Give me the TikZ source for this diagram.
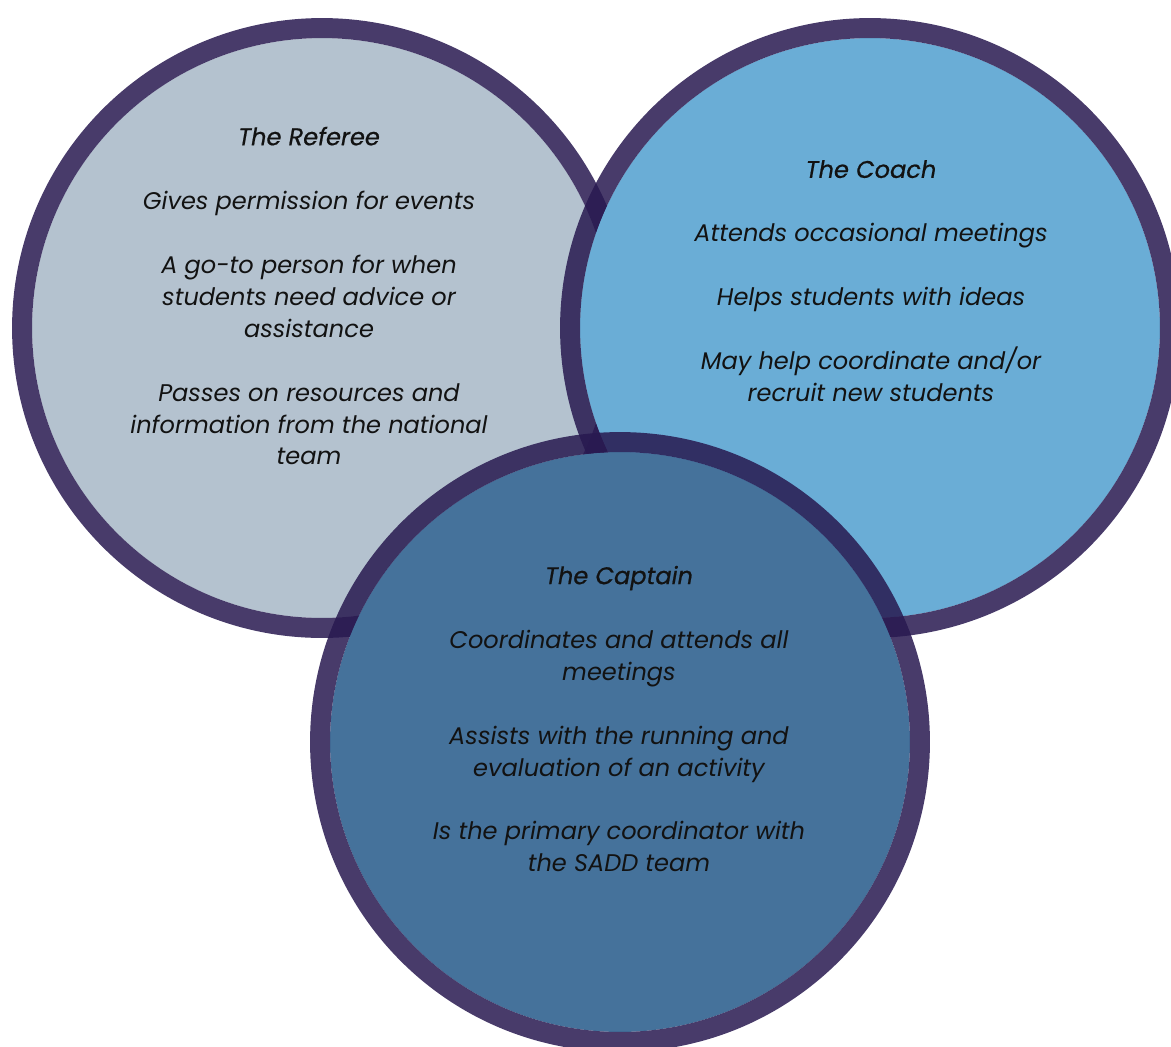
\documentclass[tikz,border=0pt]{standalone}
\usepackage{fontspec}
\setmainfont{Poppins}
\newfontfamily\rolehead{Poppins}[FakeBold=0.6]
\usepackage{tikz}
\usetikzlibrary{positioning,shapes}
\usepackage{xcolor}
\definecolor{vnpurple}{RGB}{40,25,80}
\definecolor{vngray}{RGB}{180,194,207}
\definecolor{vnsky}{RGB}{106,173,214}
\definecolor{vnsteel}{RGB}{69,114,155}
\tikzstyle{disc} = [circle,minimum size=11.6cm,inner sep=0pt,outer sep=0pt]
\tikzstyle{ring} = [draw=vnpurple,draw opacity=0.85,line width=0.4cm]
\tikzstyle{role} = [align=center,text=black!93,font=\itshape\fontsize{13.7}{18.2}\selectfont]

\begin{document}
\begin{tikzpicture}[x=0.02cm,y=-0.02cm]
\useasboundingbox (0,0) rectangle (1171,1046);
% Circles
\node[disc,fill=vngray] (referee) at (322,328) {};
\draw[ring] (referee.center) circle[radius=6cm];
\node[disc,fill=vnsky] (coach) at (870,328) {};
\draw[ring] (coach.center) circle[radius=6cm];
\node[disc,fill=vnsteel] (captain) at (620,742) {};
\draw[ring] (captain.center) circle[radius=6cm];

% Labels
\node[role] (refereetext) at (309,296) {{\rolehead The Referee}\\[18.2pt]
  Gives permission for events\\[18.2pt]
  A go-to person for when\\ students need advice or\\ assistance\\[18.2pt]
  Passes on resources and\\ information from the national\\ team};
\node[role] (coachtext) at (871,281) {{\rolehead The Coach}\\[18.2pt]
  Attends occasional meetings\\[18.2pt]
  Helps students with ideas\\[18.2pt]
  May help coordinate and/or\\ recruit new students};
\node[role] (captaintext) at (619,719) {{\rolehead The Captain}\\[18.2pt]
  Coordinates and attends all\\ meetings\\[18.2pt]
  Assists with the running and\\ evaluation of an activity\\[18.2pt]
  Is the primary coordinator with\\ the SADD team};
\end{tikzpicture}
\end{document}
